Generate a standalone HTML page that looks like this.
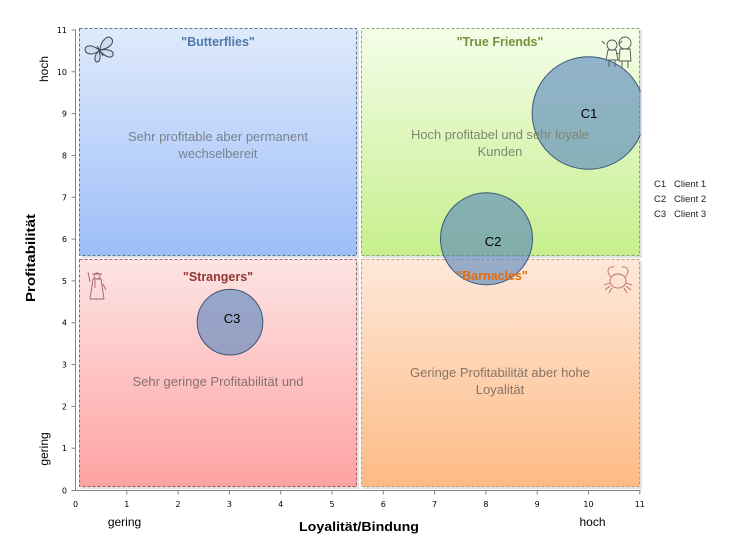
<!DOCTYPE html>
<html><head><meta charset="utf-8"><style>
html,body{margin:0;padding:0;background:#fff;}
svg{display:block;}
</style></head><body>
<svg width="739" height="551" viewBox="0 0 739 551" xmlns="http://www.w3.org/2000/svg">
<defs>
<linearGradient id="gB" x1="0" y1="0" x2="0" y2="1"><stop offset="0" stop-color="#dfeafb"/><stop offset="1" stop-color="#9dbef8"/></linearGradient>
<linearGradient id="gG" x1="0" y1="0" x2="0" y2="1"><stop offset="0" stop-color="#f4fde9"/><stop offset="1" stop-color="#c6ef8c"/></linearGradient>
<linearGradient id="gR" x1="0" y1="0" x2="0" y2="1"><stop offset="0" stop-color="#fde4e4"/><stop offset="1" stop-color="#fea2a2"/></linearGradient>
<linearGradient id="gO" x1="0" y1="0" x2="0" y2="1"><stop offset="0" stop-color="#fee8da"/><stop offset="1" stop-color="#fdbb84"/></linearGradient>
<clipPath id="plot"><rect x="76" y="20" width="564.5" height="470"/></clipPath>
</defs>

<!-- shadows -->
<rect x="81" y="30" width="278" height="228" fill="#e2e2e2"/>
<rect x="363" y="30" width="279" height="228" fill="#e2e2e2"/>
<rect x="81" y="261" width="278" height="228" fill="#e2e2e2"/>
<rect x="363" y="261" width="279" height="228" fill="#e2e2e2"/>

<!-- quadrants -->
<rect x="79.5" y="28.5" width="277" height="227" fill="url(#gB)" stroke="#56739b" stroke-width="1" stroke-dasharray="3,2"/>
<rect x="361.5" y="28.5" width="278" height="227" fill="url(#gG)" stroke="#8fa46a" stroke-width="1" stroke-dasharray="3,2"/>
<rect x="79.5" y="259.5" width="277" height="227" fill="url(#gR)" stroke="#a05a5a" stroke-width="1" stroke-dasharray="3,2"/>
<rect x="361.5" y="259.5" width="278" height="227" fill="url(#gO)" stroke="#d29a6c" stroke-width="1" stroke-dasharray="3,2"/>

<!-- axes -->
<g stroke="#868686" stroke-width="1" fill="none">
<line x1="75.5" y1="29.5" x2="75.5" y2="490.5"/>
<line x1="75.5" y1="490.5" x2="640.5" y2="490.5"/>
<line x1="71.5" y1="30" x2="75.5" y2="30"/>
<line x1="71.5" y1="71.8" x2="75.5" y2="71.8"/>
<line x1="71.5" y1="113.6" x2="75.5" y2="113.6"/>
<line x1="71.5" y1="155.5" x2="75.5" y2="155.5"/>
<line x1="71.5" y1="197.3" x2="75.5" y2="197.3"/>
<line x1="71.5" y1="239.1" x2="75.5" y2="239.1"/>
<line x1="71.5" y1="280.9" x2="75.5" y2="280.9"/>
<line x1="71.5" y1="322.7" x2="75.5" y2="322.7"/>
<line x1="71.5" y1="364.6" x2="75.5" y2="364.6"/>
<line x1="71.5" y1="406.4" x2="75.5" y2="406.4"/>
<line x1="71.5" y1="448.2" x2="75.5" y2="448.2"/>
<line x1="71.5" y1="490.5" x2="75.5" y2="490.5"/>
<line x1="126.8" y1="490.5" x2="126.8" y2="494.5"/>
<line x1="178.1" y1="490.5" x2="178.1" y2="494.5"/>
<line x1="229.4" y1="490.5" x2="229.4" y2="494.5"/>
<line x1="280.7" y1="490.5" x2="280.7" y2="494.5"/>
<line x1="332" y1="490.5" x2="332" y2="494.5"/>
<line x1="383.3" y1="490.5" x2="383.3" y2="494.5"/>
<line x1="434.6" y1="490.5" x2="434.6" y2="494.5"/>
<line x1="485.9" y1="490.5" x2="485.9" y2="494.5"/>
<line x1="537.2" y1="490.5" x2="537.2" y2="494.5"/>
<line x1="588.5" y1="490.5" x2="588.5" y2="494.5"/>
<line x1="639.8" y1="490.5" x2="639.8" y2="494.5"/>
</g>

<g font-family="DejaVu Sans, Liberation Sans, sans-serif" font-size="8" fill="#000" text-anchor="end">
<text x="67" y="33">11</text>
<text x="67" y="74.8">10</text>
<text x="67" y="116.6">9</text>
<text x="67" y="158.5">8</text>
<text x="67" y="200.3">7</text>
<text x="67" y="242.1">6</text>
<text x="67" y="283.9">5</text>
<text x="67" y="325.7">4</text>
<text x="67" y="367.6">3</text>
<text x="67" y="409.4">2</text>
<text x="67" y="451.2">1</text>
<text x="67" y="493.5">0</text>
</g>
<g font-family="DejaVu Sans, Liberation Sans, sans-serif" font-size="8" fill="#000" text-anchor="middle">
<text x="75.5" y="507">0</text>
<text x="126.8" y="507">1</text>
<text x="178.1" y="507">2</text>
<text x="229.4" y="507">3</text>
<text x="280.7" y="507">4</text>
<text x="332" y="507">5</text>
<text x="383.3" y="507">6</text>
<text x="434.6" y="507">7</text>
<text x="485.9" y="507">8</text>
<text x="537.2" y="507">9</text>
<text x="588.5" y="507">10</text>
<text x="639.8" y="507">11</text>
</g>

<!-- bubbles -->
<g clip-path="url(#plot)" fill="rgb(84,132,190)" fill-opacity="0.6" stroke="#3b5778" stroke-width="1">
<circle cx="588.5" cy="113" r="56.3"/>
<circle cx="486.5" cy="238.8" r="46"/>
<circle cx="230" cy="322.2" r="32.8"/>
</g>

<!-- icons -->
<g fill="none" stroke="#3d4550" stroke-width="1">
<path d="M99,50 C92,44 85,45 85,50 C86,54 92,56 99,51 Z" fill="#cfdcee"/>
<path d="M99,51 C94,55 94,61 97,62 C100,62 101,57 99,51 Z" fill="#cfdcee"/>
<path d="M100,49 C101,41 107,35 111,38 C115,42 111,48 100,50 Z" fill="#cfdcee"/>
<path d="M100,50 C107,49 114,50 113,55 C112,59 105,57 100,51 Z" fill="#cfdcee"/>
<line x1="97" y1="46" x2="103" y2="56"/>
</g>
<g fill="none" stroke="#555" stroke-width="0.9">
<circle cx="612" cy="45" r="5"/>
<path d="M605,44 l-3,-3 M619,44 l3,-3"/>
<path d="M608,50 l-2,10 h12 l-2,-10 z"/>
<path d="M609,60 v7 M615,60 v7"/>
<circle cx="625" cy="43" r="6"/>
<path d="M620,49 l-1,12 h12 l-1,-12 z"/>
<path d="M622,61 v7 M628,61 v7"/>
<path d="M616,54 l4,-1"/>
</g>
<g fill="none" stroke="#a86060" stroke-width="0.9">
<circle cx="97" cy="276" r="3"/>
<path d="M92,274 l10,0 M93,279 l-3,20 h14 l-3,-20 z"/>
<path d="M90,282 l-2,-10 M103,284 l3,6"/>
<path d="M95,280 v8"/>
</g>
<g fill="none" stroke="#b86a6a" stroke-width="0.9">
<ellipse cx="618" cy="281" rx="8" ry="7"/>
<path d="M611,277 c-6,-6 -2,-11 3,-10 M625,277 c6,-6 2,-11 -3,-10"/>
<path d="M610,283 l-6,2 M610,286 l-5,4 M626,283 l6,2 M626,286 l5,4 M612,288 l-3,5 M624,288 l3,5"/>
</g>

<!-- quadrant text -->
<g font-family="Liberation Sans, sans-serif" text-anchor="middle">
<text x="218" y="46" font-size="12.5" font-weight="bold" fill="#4f79ae">"Butterflies"</text>
<text x="500" y="46" font-size="12.5" font-weight="bold" fill="#76923c">"True Friends"</text>
<text x="218" y="281" font-size="12.5" font-weight="bold" fill="#943634">"Strangers"</text>
<text x="492" y="280" font-size="12.5" font-weight="bold" fill="#e46c0a">"Barnacles"</text>

<g font-size="13" fill="#7a8290">
<text x="218" y="141" textLength="180" lengthAdjust="spacingAndGlyphs">Sehr profitable aber permanent</text>
<text x="218" y="158" textLength="79" lengthAdjust="spacingAndGlyphs">wechselbereit</text>
</g>
<g font-size="13" fill="#7f8670">
<text x="500" y="139" textLength="178" lengthAdjust="spacingAndGlyphs">Hoch profitabel und sehr loyale</text>
<text x="500" y="156">Kunden</text>
</g>
<g font-size="13" fill="#8a7070">
<text x="218" y="386" textLength="171" lengthAdjust="spacingAndGlyphs">Sehr geringe Profitabilität und</text>
</g>
<g font-size="13" fill="#877468">
<text x="500" y="377" textLength="180" lengthAdjust="spacingAndGlyphs">Geringe Profitabilität aber hohe</text>
<text x="500" y="394">Loyalität</text>
</g>
</g>

<!-- bubble labels -->
<g font-family="Liberation Sans, sans-serif" font-size="13" fill="#000" text-anchor="middle">
<text x="589" y="118">C1</text>
<text x="493" y="246">C2</text>
<text x="232" y="323">C3</text>
</g>

<!-- legend -->
<g font-family="Liberation Sans, sans-serif" font-size="9.5" fill="#222">
<text x="654" y="187">C1</text><text x="674" y="187">Client 1</text>
<text x="654" y="202">C2</text><text x="674" y="202">Client 2</text>
<text x="654" y="217">C3</text><text x="674" y="217">Client 3</text>
</g>

<!-- axis titles -->
<g font-family="Liberation Sans, sans-serif" fill="#000">
<text x="359" y="531" font-size="13" font-weight="bold" text-anchor="middle" textLength="120" lengthAdjust="spacingAndGlyphs">Loyalität/Bindung</text>
<text transform="translate(35,258) rotate(-90)" font-size="13" font-weight="bold" text-anchor="middle" textLength="88" lengthAdjust="spacingAndGlyphs">Profitabilität</text>
<text transform="translate(48,69) rotate(-90)" font-size="12" text-anchor="middle">hoch</text>
<text transform="translate(48,449) rotate(-90)" font-size="12" text-anchor="middle">gering</text>
<text x="124.5" y="526" font-size="12" text-anchor="middle">gering</text>
<text x="592.5" y="526" font-size="12" text-anchor="middle">hoch</text>
</g>
</svg>
</body></html>
